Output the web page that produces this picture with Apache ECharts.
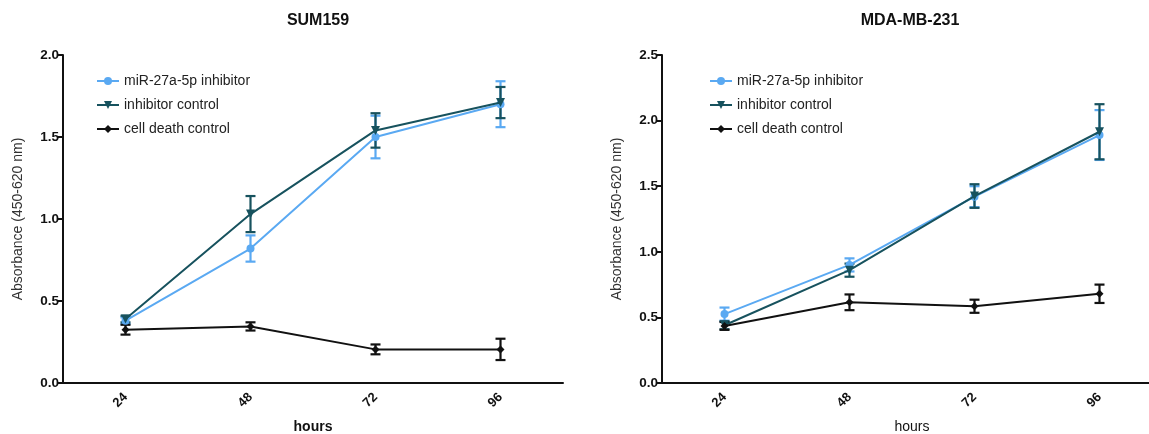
<!DOCTYPE html>
<html>
<head>
    <meta charset="utf-8">
    <title>Absorbance</title>
    <script src="https://cdn.jsdelivr.net/npm/echarts@6/dist/echarts.min.js"></script>
    <style>
        html, body { margin: 0; padding: 0; background: #fff; }
        #main { width: 1149px; height: 434px; }
    </style>
</head>
<body>
<div id="main"></div>
<script>
    var hours = ['24', '48', '72', '96'];
    var seriesNames = ['miR-27a-5p inhibitor', 'inhibitor control', 'cell death control'];

    // SUM159 means and error (+/-)
    var sumInhibitor = [0.38, 0.82, 1.50, 1.70];
    var sumInhibitorErr = [0.02, 0.08, 0.13, 0.14];
    var sumControl = [0.39, 1.03, 1.54, 1.71];
    var sumControlErr = [0.02, 0.11, 0.105, 0.095];
    var sumDeath = [0.325, 0.345, 0.205, 0.205];
    var sumDeathErr = [0.03, 0.025, 0.03, 0.065];

    // MDA-MB-231 means and error (+/-)
    var mdaInhibitor = [0.525, 0.90, 1.42, 1.89];
    var mdaInhibitorErr = [0.05, 0.05, 0.08, 0.19];
    var mdaControl = [0.44, 0.86, 1.425, 1.915];
    var mdaControlErr = [0.03, 0.05, 0.09, 0.21];
    var mdaDeath = [0.435, 0.615, 0.585, 0.68];
    var mdaDeathErr = [0.03, 0.06, 0.05, 0.07];

    var colors = ['#5aa9f2', '#17525e', '#111111'];
    var symbols = ['circle', 'triangle', 'diamond'];
    var rotates = [0, 180, 0];
    var font = 'Liberation Sans, Arial, sans-serif';

    function errData(vals, errs) {
        var out = [];
        for (var i = 0; i < vals.length; i++) {
            out.push([i, vals[i] - errs[i], vals[i] + errs[i]]);
        }
        return out;
    }

    function errRender(params, api) {
        var x = api.value(0);
        var top = api.coord([x, api.value(2)]);
        var bot = api.coord([x, api.value(1)]);
        var w = 5;
        var style = { stroke: api.visual('color'), lineWidth: 2.2 };
        return {
            type: 'group',
            children: [
                { type: 'line', shape: { x1: top[0], y1: top[1], x2: bot[0], y2: bot[1] }, style: style },
                { type: 'line', shape: { x1: top[0] - w, y1: top[1], x2: top[0] + w, y2: top[1] }, style: style },
                { type: 'line', shape: { x1: bot[0] - w, y1: bot[1], x2: bot[0] + w, y2: bot[1] }, style: style }
            ]
        };
    }

    var panels = [
        { vals: [sumInhibitor, sumControl, sumDeath], errs: [sumInhibitorErr, sumControlErr, sumDeathErr], max: 2.0 },
        { vals: [mdaInhibitor, mdaControl, mdaDeath], errs: [mdaInhibitorErr, mdaControlErr, mdaDeathErr], max: 2.5 }
    ];

    var series = [];
    panels.forEach(function (p, k) {
        for (var s = 0; s < 3; s++) {
            series.push({
                name: seriesNames[s] + ' err' + k,
                type: 'custom',
                xAxisIndex: k, yAxisIndex: k,
                renderItem: errRender,
                itemStyle: { color: colors[s] },
                data: errData(p.vals[s], p.errs[s]),
                z: 3 + s,
                silent: true
            });
        }
        for (var s2 = 0; s2 < 3; s2++) {
            series.push({
                name: seriesNames[s2],
                type: 'line',
                xAxisIndex: k, yAxisIndex: k,
                data: p.vals[s2],
                symbol: symbols[s2],
                symbolRotate: rotates[s2],
                symbolSize: s2 === 1 ? 9 : 8,
                color: colors[s2],
                lineStyle: { width: 2, color: colors[s2] },
                itemStyle: { color: colors[s2] },
                z: 6 + s2
            });
        }
    });

    var myChart = echarts.init(document.getElementById('main'));
    var option = {
        animation: false,
        textStyle: { fontFamily: font },
        title: [
            { text: 'SUM159', left: 313, top: 8, textAlign: 'center',
              textStyle: { fontSize: 16, fontWeight: 'bold', color: '#111', fontFamily: font } },
            { text: 'MDA-MB-231', left: 905, top: 8, textAlign: 'center',
              textStyle: { fontSize: 16, fontWeight: 'bold', color: '#111', fontFamily: font } }
        ],
        legend: [
            { data: seriesNames, orient: 'vertical', left: 91, top: 69, itemGap: 10,
              itemWidth: 22, itemHeight: 10,
              textStyle: { fontSize: 14, color: '#222', fontFamily: font } },
            { data: seriesNames, orient: 'vertical', left: 704, top: 69, itemGap: 10,
              itemWidth: 22, itemHeight: 10,
              textStyle: { fontSize: 14, color: '#222', fontFamily: font } }
        ],
        grid: [
            { left: 63, top: 55, width: 500, height: 328, outerBoundsMode: 'none', containLabel: false },
            { left: 662, top: 55, width: 500, height: 328, outerBoundsMode: 'none', containLabel: false }
        ],
        xAxis: [0, 1].map(function (k) {
            return {
                type: 'category', gridIndex: k, data: hours, boundaryGap: true,
                name: 'hours', nameLocation: 'middle', nameGap: 37,
                nameTextStyle: { fontSize: 14, fontWeight: k === 0 ? 'bold' : 'normal', color: '#111' },
                axisLine: { lineStyle: { color: '#111', width: 2 } },
                axisTick: { alignWithLabel: true, length: 5, lineStyle: { width: 2 } },
                axisLabel: { rotate: 45, fontSize: 13, fontWeight: 'bold', color: '#111', margin: 12 },
                splitLine: { show: false }
            };
        }),
        yAxis: panels.map(function (p, k) {
            return {
                type: 'value', gridIndex: k, min: 0, max: p.max, interval: 0.5,
                name: 'Absorbance (450-620 nm)', nameLocation: 'middle', nameGap: 38,
                nameTextStyle: { fontSize: 14, color: '#333' },
                axisLine: { show: true, lineStyle: { color: '#111', width: 2 } },
                axisTick: { show: true, length: 5, lineStyle: { width: 2 } },
                axisLabel: { fontSize: 13.5, fontWeight: 'bold', color: '#111', margin: 4,
                    formatter: function (v) { return v.toFixed(1); } },
                splitLine: { show: false }
            };
        }),
        series: series
    };
    myChart.setOption(option);
</script>
</body>
</html>
